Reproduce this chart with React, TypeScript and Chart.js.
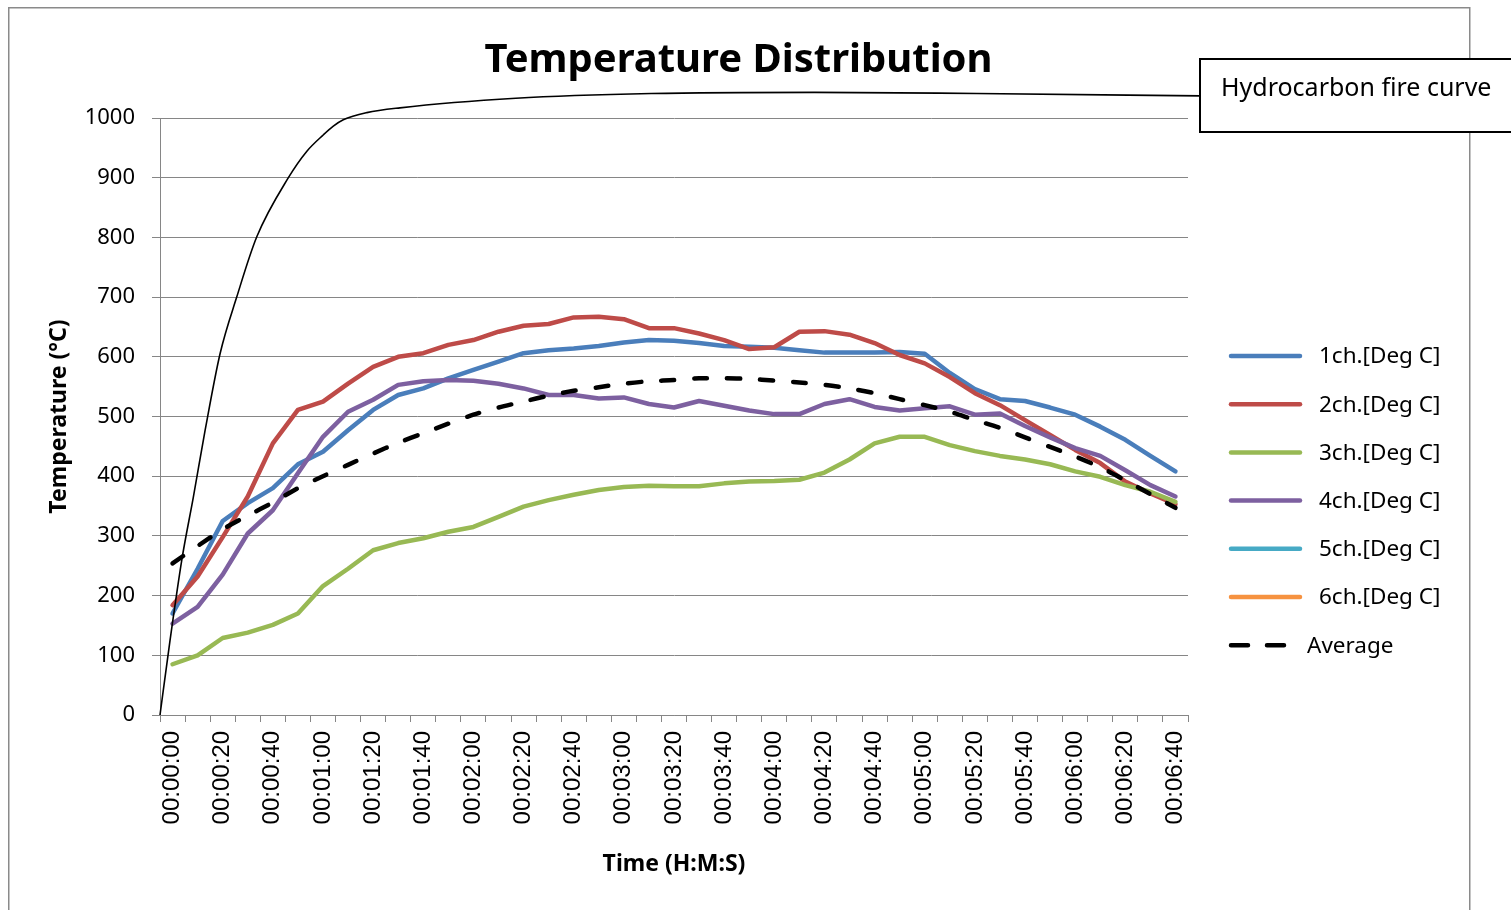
import React, { useEffect, useRef } from 'react';
import { Chart, registerables } from 'chart.js';

Chart.register(...registerables);

const timeLabels = [
  '00:00:00', '00:00:10', '00:00:20', '00:00:30', '00:00:40', '00:00:50',
  '00:01:00', '00:01:10', '00:01:20', '00:01:30', '00:01:40', '00:01:50',
  '00:02:00', '00:02:10', '00:02:20', '00:02:30', '00:02:40', '00:02:50',
  '00:03:00', '00:03:10', '00:03:20', '00:03:30', '00:03:40', '00:03:50',
  '00:04:00', '00:04:10', '00:04:20', '00:04:30', '00:04:40', '00:04:50',
  '00:05:00', '00:05:10', '00:05:20', '00:05:30', '00:05:40', '00:05:50',
  '00:06:00', '00:06:10', '00:06:20', '00:06:30', '00:06:40',
];

const ch1 = [170, 245, 325, 355, 380, 420, 441, 477, 511, 536, 547, 564, 578, 592, 606, 611, 614, 618, 624, 628, 627, 623, 618, 617, 615, 611, 607, 607, 607, 608, 605, 573, 546, 529, 526, 515, 503, 483, 461, 434, 408];
const ch2 = [184, 232, 298, 366, 455, 511, 525, 555, 583, 600, 606, 620, 628, 642, 652, 655, 666, 667, 663, 648, 648, 639, 628, 613, 616, 642, 643, 637, 623, 603, 589, 566, 539, 519, 494, 469, 444, 422, 391, 371, 353];
const ch3 = [85, 100, 129, 138, 151, 170, 216, 245, 276, 288, 296, 307, 315, 332, 349, 360, 369, 377, 382, 384, 383, 383, 388, 391, 392, 394, 406, 428, 455, 466, 466, 452, 442, 434, 428, 420, 408, 399, 385, 374, 357];
const ch4 = [153, 181, 235, 304, 343, 405, 466, 508, 528, 553, 559, 561, 560, 555, 547, 536, 536, 530, 532, 521, 515, 526, 518, 510, 504, 504, 521, 529, 516, 510, 514, 517, 503, 505, 484, 465, 447, 434, 410, 385, 366];
const ch5: number[] = [];
const ch6: number[] = [];
const average = [254, 283, 311, 334, 356, 380, 400, 419, 438, 456, 472, 488, 503, 515, 525, 535, 543, 549, 555, 559, 561, 564, 564, 563, 560, 557, 553, 547, 539, 529, 519, 508, 494, 481, 465, 449, 433, 415, 393, 370, 347];

// Hydrocarbon fire curve (time in seconds on the same time base, temperature in °C)
const fireTime = [-5, -1, 3.7, 8.3, 13, 19, 25.6, 33.6, 46.2, 53.5, 60.2, 64, 68.1, 77.5, 90.7, 136.9, 190.9, 255.9, 320.7, 410];
const fireTemp = [0, 125, 260, 365, 477, 606, 700, 801, 900, 944, 972, 986, 997, 1009, 1017, 1033, 1041, 1043, 1041, 1037];

const seriesNames = ['1ch.[Deg C]', '2ch.[Deg C]', '3ch.[Deg C]', '4ch.[Deg C]', '5ch.[Deg C]', '6ch.[Deg C]'];
const seriesColors = ['#4A7EBB', '#BE4B48', '#98B954', '#7D60A0', '#46AAC5', '#F69240'];
const averageName = 'Average';
const chartTitle = 'Temperature Distribution';
const xTitle = 'Time (H:M:S)';
const yTitle = 'Temperature (°C)';
const fireLabel = 'Hydrocarbon fire curve';

const GRID = '#868686';

export default function App() {
  const ref = useRef<HTMLCanvasElement>(null);

  useEffect(() => {
    document.documentElement.style.overflow = 'hidden';
    document.body.style.overflow = 'hidden';
    const canvas = ref.current;
    if (!canvas) return;

    const channelData = [ch1, ch2, ch3, ch4, ch5, ch6];
    const datasets: any[] = [
      {
        label: fireLabel,
        data: fireTime.map((t, i) => ({ x: t, y: fireTemp[i] })),
        xAxisID: 'x2',
        yAxisID: 'y',
        borderColor: '#000000',
        backgroundColor: '#000000',
        borderWidth: 1.6,
        pointRadius: 0,
        cubicInterpolationMode: 'monotone',
        capBezierPoints: false,
        clip: false,
        order: 0,
      },
      {
        label: averageName,
        data: average,
        xAxisID: 'x',
        yAxisID: 'y',
        borderColor: '#000000',
        backgroundColor: '#000000',
        borderWidth: 4.5,
        borderDash: [13, 20],
        borderCapStyle: 'round',
        pointRadius: 0,
        tension: 0.3,
        order: 1,
      },
    ];
    channelData.forEach((d, i) => {
      datasets.push({
        label: seriesNames[i],
        data: d,
        xAxisID: 'x',
        yAxisID: 'y',
        borderColor: seriesColors[i],
        backgroundColor: seriesColors[i],
        borderWidth: 4.5,
        borderJoinStyle: 'round',
        borderCapStyle: 'round',
        pointRadius: 0,
        tension: 0,
        order: 7 - i,
      });
    });

    const decor = {
      id: 'decor',
      beforeDraw(chart: any) {
        const ctx = chart.ctx;
        ctx.save();
        ctx.fillStyle = '#ffffff';
        ctx.fillRect(0, 0, chart.width, chart.height);
        ctx.strokeStyle = '#8a8a8a';
        ctx.lineWidth = 1.5;
        ctx.strokeRect(0.75, 0.75, 1461, 1000);
        ctx.restore();
      },
      afterDraw(chart: any) {
        const ctx = chart.ctx;
        ctx.save();
        // Title
        ctx.fillStyle = '#000';
        ctx.font = 'bold 40px "Noto Sans"';
        ctx.textAlign = 'center';
        ctx.textBaseline = 'alphabetic';
        ctx.fillText(chartTitle, 730.5, 65);

        // Legend
        ctx.font = '22.5px "Noto Sans"';
        ctx.textAlign = 'left';
        ctx.textBaseline = 'middle';
        const rowY0 = 349;
        const step = 48.2;
        for (let i = 0; i < seriesNames.length; i++) {
          const y = rowY0 + i * step;
          ctx.strokeStyle = seriesColors[i];
          ctx.lineWidth = 4.5;
          ctx.lineCap = 'round';
          ctx.beginPath();
          ctx.moveTo(1223, y);
          ctx.lineTo(1292, y);
          ctx.stroke();
          ctx.fillStyle = '#000';
          ctx.fillText(seriesNames[i], 1311, y + 1);
        }
        const ya = rowY0 + 6 * step;
        ctx.strokeStyle = '#000';
        ctx.lineWidth = 4.5;
        ctx.lineCap = 'round';
        ctx.beginPath();
        ctx.moveTo(1223, ya);
        ctx.lineTo(1240, ya);
        ctx.moveTo(1259, ya);
        ctx.lineTo(1276, ya);
        ctx.stroke();
        ctx.fillStyle = '#000';
        ctx.fillText(averageName, 1299, ya + 1);

        // Fire curve label box
        ctx.fillStyle = '#ffffff';
        ctx.fillRect(1192, 52, 400, 73);
        ctx.strokeStyle = '#000';
        ctx.lineWidth = 2;
        ctx.strokeRect(1192, 52, 400, 73);
        ctx.fillStyle = '#000';
        ctx.font = '25px "Noto Sans"';
        ctx.textBaseline = 'middle';
        ctx.fillText(fireLabel, 1213, 82);
        ctx.restore();
      },
    };

    const chart = new Chart(canvas, {
      type: 'line',
      data: { labels: timeLabels, datasets },
      plugins: [decor],
      options: {
        responsive: false,
        animation: false,
        devicePixelRatio: 1,
        layout: { padding: { top: 111, right: 323, bottom: 30, left: 0 } },
        plugins: {
          legend: { display: false },
          title: { display: false },
          tooltip: { enabled: false },
        },
        scales: {
          x: {
            type: 'category',
            offset: true,
            grid: {
              display: true,
              drawOnChartArea: false,
              drawTicks: true,
              tickLength: 7,
              color: GRID,
              lineWidth: 1,
              offset: true,
            },
            border: { display: true, color: GRID, width: 1 },
            ticks: {
              autoSkip: false,
              maxRotation: 90,
              minRotation: 90,
              padding: 9,
              color: '#000',
              font: { family: 'Liberation Sans', size: 24 },
              callback: function (this: any, val: any, idx: number) {
                return idx % 2 === 0 ? this.getLabelForValue(val) : '';
              },
            },
            title: {
              display: true,
              text: xTitle,
              color: '#000',
              font: { family: 'Noto Sans', size: 23, weight: 'bold' },
              padding: { top: 0, bottom: 2 },
            },
            afterFit: (s: any) => {
              s.height = 165;
            },
          } as any,
          x2: {
            type: 'linear',
            min: -5,
            max: 405,
            display: false,
          },
          y: {
            min: 0,
            max: 1000,
            ticks: {
              stepSize: 100,
              padding: 17,
              color: '#000',
              font: { family: 'Noto Sans', size: 22 },
              callback: (v: any) => String(v),
            },
            grid: { color: GRID, lineWidth: 1, tickLength: 8 },
            border: { display: true, color: GRID, width: 1 },
            title: {
              display: true,
              text: yTitle,
              color: '#000',
              font: { family: 'Noto Sans', size: 23, weight: 'bold' },
              padding: { top: 38, bottom: 0 },
            },
            afterFit: (s: any) => {
              s.width = 152;
            },
          } as any,
        },
      } as any,
    });

    return () => {
      chart.destroy();
    };
  }, []);

  return (
    <div style={{ position: 'absolute', left: 8, top: 7, width: 1503, height: 903, overflow: 'hidden' }}>
      <canvas ref={ref} width={1503} height={903} style={{ width: 1503, height: 903, display: 'block' }} />
    </div>
  );
}
